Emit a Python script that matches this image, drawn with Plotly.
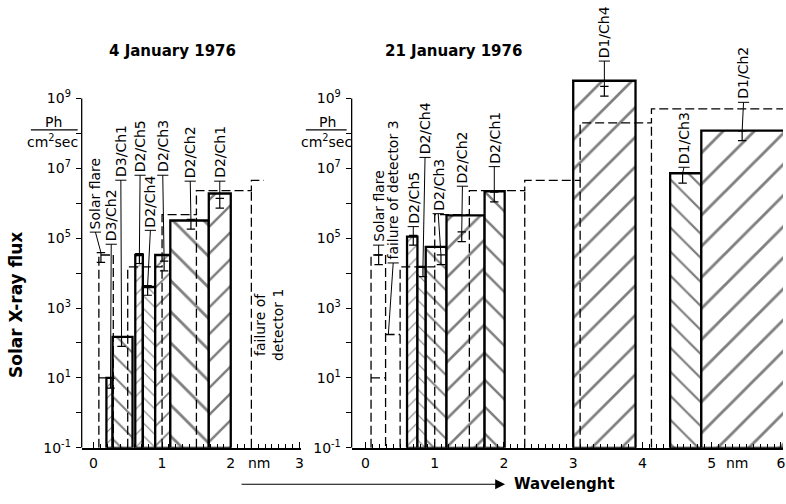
import numpy as np
import plotly.graph_objects as go

W, H = 786, 504

# ---------------- data ----------------
# 4 January 1976 – measured channels (solid, hatched boxes)
jan4_channels = ["D3/Ch2", "D3/Ch1", "D2/Ch5", "D2/Ch4", "D2/Ch3", "D2/Ch2", "D2/Ch1"]
jan4_lo_nm = [0.19, 0.28, 0.61, 0.72, 0.90, 1.12, 1.68]
jan4_hi_nm = [0.28, 0.57, 0.72, 0.90, 1.12, 1.68, 2.00]
jan4_flux = [1.0e1, 1.5e2, 3.3e4, 4.0e3, 3.3e4, 3.2e5, 1.9e6]
jan4_err_flux = [7.0, 1.1e2, 2.6e4, 3.2e3, 1.6e4, 2.5e5, 1.0e6]

# 21 January 1976 – measured channels
jan21_channels = ["D2/Ch5", "D2/Ch4", "D2/Ch3", "D2/Ch2", "D2/Ch1", "D1/Ch4", "D1/Ch3", "D1/Ch2"]
jan21_lo_nm = [0.60, 0.75, 0.87, 1.17, 1.72, 3.00, 4.40, 4.85]
jan21_hi_nm = [0.75, 0.87, 1.17, 1.72, 2.01, 3.90, 4.85, 6.30]
jan21_flux = [1.1e5, 1.5e4, 5.6e4, 4.5e5, 2.2e6, 3.2e9, 7.2e6, 1.2e8]
jan21_err_flux = [8.7e4, 1.1e4, 2.4e4, 1.1e5, 1.5e6, 1.6e9, 5.2e6, 8.5e7]

# solar flare spectrum (dashed steps)
flare_edges_nm = [0.50, 1.00, 1.50, 2.30, 3.10, 4.13, 6.30]
flare_flux = [1.5e4, 4.7e5, 2.3e6, 4.5e6, 2.0e8, 5.0e8]
flare_d3_edges_nm = [0.08, 0.29]
flare_d3_flux = [3.3e4]
jan4_flare_err_flux = 2.8e4
jan21_flare_err_flux = 2.4e4

# detector-3 placeholders (dashed)
d3fail_edges_nm = [0.08, 0.29, 0.50]
d3fail_flux = [1.0e1, 1.75e2]

y_tick_exponents = list(range(-1, 10))

# ---------------- label placement (positions, not data) ----------------
# name: (text x, text bottom flux, leader x)
jan4_label_pos = {
    "Solar flare": (0.03, 1.6e5, 0.11),
    "D3/Ch2": (0.26, 7.2e4, 0.25),
    "D3/Ch1": (0.40, 4.9e6, 0.41),
    "D2/Ch5": (0.68, 6.8e6, 0.67),
    "D2/Ch4": (0.83, 1.8e5, 0.79),
    "D2/Ch3": (1.01, 6.8e6, 1.03),
    "D2/Ch2": (1.41, 4.6e6, 1.42),
    "D2/Ch1": (1.84, 4.6e6, 1.84),
}
jan21_label_pos = {
    "Solar flare": (0.19, 6.8e4, 0.19),
    "failure of detector 3": (0.40, 2.1e4, 0.33),
    "D2/Ch5": (0.69, 2.3e5, 0.69),
    "D2/Ch4": (0.86, 2.2e7, 0.83),
    "D2/Ch3": (1.05, 5.4e5, 1.09),
    "D2/Ch2": (1.40, 3.3e6, 1.39),
    "D2/Ch1": (1.86, 1.2e7, 1.86),
    "D1/Ch4": (3.45, 1.26e10, 3.45),
    "D1/Ch3": (4.60, 1.15e7, 4.58),
    "D1/Ch2": (5.46, 8.3e8, 5.44),
}

# ---------------- styles ----------------
FONT = "DejaVu Sans"
FLOOR = 0.1
ERR_HALF_DEC = 0.14
jan4_hatch = ["/", "\\", "/", "\\", "/", "\\", "/"]
jan4_hatch_size = [8, 15, 9, 9, 14, 22, 19]
jan21_hatch = ["/", "\\", "\\", "/", "\\", "/", "\\", "/"]
jan21_hatch_size = [9, 9, 15, 20, 19, 21, 17, 22]

left_dom = [82 / W, 302 / W]
right_dom = [353 / W, 786 / W]
ybot_px, ytop_px, px_per_dec = 455, 5, 35.5
y_dom = [(H - ybot_px) / H, (H - ytop_px) / H]
y_range = [-1, -1 + (ybot_px - ytop_px) / px_per_dec]

fig = go.Figure()


def add_bars(lo, hi, flux, hatch, size, xa, ya):
    lo = np.array(lo); hi = np.array(hi); flux = np.array(flux)
    fig.add_trace(go.Bar(
        x=(lo + hi) / 2, width=hi - lo, y=flux - FLOOR, base=FLOOR,
        xaxis=xa, yaxis=ya, showlegend=False, hoverinfo="skip",
        marker=dict(color="white", line=dict(color="black", width=2.3),
                    pattern=dict(shape=hatch, size=size, solidity=0.13,
                                 fgcolor="black", bgcolor="white")),
    ))


def step_segments(edges, vals, xmax=None):
    xs, ys = [], []
    px, py = [edges[0]], [FLOOR]
    for i, v in enumerate(vals):
        x0, x1 = edges[i], edges[i + 1]
        if xmax is not None and x0 >= xmax:
            break
        if xmax is not None:
            x1 = min(x1, xmax)
        px += [x0, x1]
        py += [v, v]
    xs += px + [None]
    ys += py + [None]
    for i in range(1, len(edges) - 1):
        e = edges[i]
        if xmax is not None and e >= xmax:
            break
        xs += [e, e, None]
        ys += [FLOOR, min(vals[i - 1], vals[i]), None]
    return xs, ys


def add_dashed(xs, ys, xa, ya):
    fig.add_trace(go.Scatter(x=xs, y=ys, mode="lines", xaxis=xa, yaxis=ya,
                             line=dict(color="black", width=1.3, dash="9px,4px"),
                             showlegend=False, hoverinfo="skip"))


def add_labels(pos, err_map, xa, ya, no_err=()):
    lx, ly = [], []
    ex, ey = [], []
    tx_, ty_ = [], []
    for name, (tx, tb, lxx) in pos.items():
        e = err_map.get(name)
        if name in no_err:
            end = e
        else:
            end = e * 10 ** ERR_HALF_DEC
            ex += [lxx, lxx, None]
            ey += [e / 10 ** ERR_HALF_DEC, e * 10 ** ERR_HALF_DEC, None]
        lx += [tx, lxx, None]
        ly += [tb * 0.93, end, None]
        tx_.append(tx)
        ty_.append(tb * 0.93)
        fig.add_annotation(x=tx, y=np.log10(tb), xref=xa, yref=ya, text=name,
                           textangle=-90, showarrow=False, xanchor="center",
                           yanchor="bottom", font=dict(family=FONT, size=14, color="black"))
    fig.add_trace(go.Scatter(x=lx, y=ly, mode="lines", xaxis=xa, yaxis=ya,
                             line=dict(color="black", width=1), showlegend=False, hoverinfo="skip"))
    fig.add_trace(go.Scatter(x=tx_, y=ty_, mode="markers", xaxis=xa, yaxis=ya,
                             marker=dict(symbol="line-ew", size=8, color="black",
                                         line=dict(color="black", width=1)),
                             showlegend=False, hoverinfo="skip"))
    fig.add_trace(go.Scatter(x=ex, y=ey, mode="lines+markers", xaxis=xa, yaxis=ya,
                             line=dict(color="black", width=1.2),
                             marker=dict(symbol="line-ew", size=6, color="black",
                                         line=dict(color="black", width=1.2)),
                             showlegend=False, hoverinfo="skip"))


# ---- left panel (4 January 1976) ----
add_bars(jan4_lo_nm, jan4_hi_nm, jan4_flux, jan4_hatch, jan4_hatch_size, "x", "y")
xs, ys = step_segments(flare_edges_nm, flare_flux, xmax=2.48)
add_dashed(xs, ys, "x", "y")
xs, ys = step_segments(flare_d3_edges_nm, flare_d3_flux)
xs += [flare_d3_edges_nm[-1], flare_d3_edges_nm[-1], None]
ys += [flare_d3_flux[0], FLOOR, None]
xs += [d3fail_edges_nm[0], d3fail_edges_nm[1], None]
ys += [d3fail_flux[0], d3fail_flux[0], None]
add_dashed(xs, ys, "x", "y")
err4 = dict(zip(jan4_channels, jan4_err_flux))
err4["Solar flare"] = jan4_flare_err_flux
add_labels(jan4_label_pos, err4, "x", "y")

# ---- right panel (21 January 1976) ----
add_bars(jan21_lo_nm, jan21_hi_nm, jan21_flux, jan21_hatch, jan21_hatch_size, "x2", "y2")
xs, ys = step_segments(flare_edges_nm, flare_flux)
add_dashed(xs, ys, "x2", "y2")
xs, ys = step_segments(flare_d3_edges_nm, flare_d3_flux)
xs += [flare_d3_edges_nm[-1], flare_d3_edges_nm[-1], None]
ys += [flare_d3_flux[0], FLOOR, None]
for i, v in enumerate(d3fail_flux):
    xs += [d3fail_edges_nm[i], d3fail_edges_nm[i + 1], None]
    ys += [v, v, None]
add_dashed(xs, ys, "x2", "y2")
err21 = dict(zip(jan21_channels, jan21_err_flux))
err21["Solar flare"] = jan21_flare_err_flux
err21["failure of detector 3"] = d3fail_flux[1]
add_labels(jan21_label_pos, err21, "x2", "y2", no_err=("failure of detector 3",))

# ---------------- axes ----------------
tickfont = dict(family=FONT, size=14, color="black")
ytext = [("10<sup>%d</sup>" % k) if k % 2 else "" for k in y_tick_exponents]
yvals = [10.0 ** k for k in y_tick_exponents]
yax = dict(type="log", range=y_range, domain=y_dom, tickvals=yvals, ticktext=ytext,
           ticks="outside", ticklen=5, tickwidth=1.2, tickcolor="black",
           showgrid=False, zeroline=False, showline=False, tickfont=tickfont,
           ticklabelstandoff=2)


def xax(dom, rng, nmax):
    return dict(domain=dom, range=rng, tickvals=list(range(0, nmax + 1)),
                ticks="inside", ticklen=6, tickwidth=1.2, tickcolor="black",
                minor=dict(tickvals=[round(0.1 * i, 1) for i in range(0, nmax * 10 + 1)],
                           ticks="inside", ticklen=4, tickwidth=1, tickcolor="black"),
                showline=True, linewidth=1.5, linecolor="black", showgrid=False,
                zeroline=False, tickfont=tickfont, ticklabelstandoff=2)


fig.update_layout(
    width=W, height=H, margin=dict(l=0, r=0, t=0, b=0),
    paper_bgcolor="white", plot_bgcolor="white", barmode="overlay",
    xaxis=dict(xax(left_dom, [-0.17, 3.02], 3), anchor="y"),
    xaxis2=dict(xax(right_dom, [-0.2, 6.03], 6), anchor="y2"),
    yaxis=dict(yax, anchor="x"),
    yaxis2=dict(yax, anchor="x2"),
    font=dict(family=FONT, color="black"),
)

# y-axis lines from 10^-1 to 10^9
for xr, yr in (("x domain", "y"), ("x2 domain", "y2")):
    fig.add_shape(type="line", xref=xr, yref=yr, x0=0, x1=0, y0=yvals[0], y1=yvals[-1],
                  line=dict(color="black", width=1.3))


def paper_text(xpx, ypx, text, size=14, angle=0, xanchor="center", bold=False):
    fig.add_annotation(xref="paper", yref="paper", x=xpx / W, y=1 - ypx / H,
                       text=("<b>%s</b>" % text) if bold else text, textangle=angle,
                       showarrow=False, xanchor=xanchor, yanchor="middle",
                       font=dict(family=FONT, size=size, color="black"))


# unit fractions
for cx, l0, l1 in ((54, 31, 78), (329, 307, 348)):
    paper_text(cx, 124, "Ph")
    paper_text(cx - 1, 143, "cm<sup>2</sup>sec")
    fig.add_shape(type="line", xref="paper", yref="paper", x0=l0 / W, x1=l1 / W,
                  y0=1 - 132 / H, y1=1 - 132 / H, line=dict(color="black", width=1.2))

# "nm" unit on the x axes
for xr, xv in (("x", 2.42), ("x2", 5.37)):
    fig.add_annotation(xref=xr, yref="paper", x=xv, y=1 - 470 / H, text="nm",
                       showarrow=False, xanchor="center", yanchor="middle", font=tickfont)

# panel titles
paper_text(173, 52, "4 January 1976", size=15, bold=True)
paper_text(455, 52, "21 January 1976", size=15, bold=True)

# failure of detector 1
fig.add_annotation(xref="x", yref="y", x=2.55, y=2.5, text="failure of<br>detector 1",
                   textangle=-90, showarrow=False, xanchor="center", yanchor="middle",
                   font=dict(family=FONT, size=14))

# y title
paper_text(16, 310, "Solar X-ray flux", size=17, angle=-90, bold=True)

# wavelength arrow
fig.add_annotation(xref="paper", yref="paper", x=507 / W, y=1 - 492 / H, ax=-265, ay=0,
                   text="", showarrow=True, arrowhead=2, arrowsize=1.8, arrowwidth=1.1,
                   arrowcolor="black")
paper_text(514, 492, "Wavelenght", size=15, xanchor="left", bold=True)

fig.write_html("out.html")
